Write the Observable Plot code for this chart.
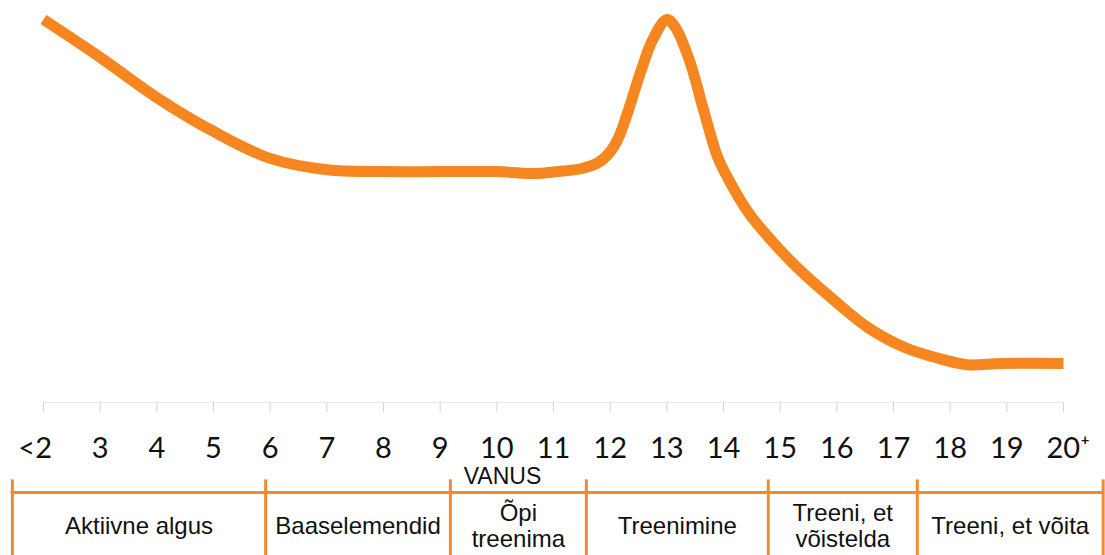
<!DOCTYPE html>
<html>
<head>
<meta charset="utf-8">
<script src="https://cdn.jsdelivr.net/npm/d3@7"></script>
<script src="https://cdn.jsdelivr.net/npm/@observablehq/plot@0.6"></script>
<style>
  html, body { margin: 0; padding: 0; background: #fff; overflow: hidden; }
  #chart svg { display: block; }
</style>
</head>
<body>
<div id="chart"></div>
<script>
// ---- data ----
const ageTicks = [2, 3, 4, 5, 6, 7, 8, 9, 10, 11, 12, 13, 14, 15, 16, 17, 18, 19, 20];
const ageLabels = ["<2", "3", "4", "5", "6", "7", "8", "9", "10", "11", "12", "13", "14", "15", "16", "17", "18", "19", "20⁺"];
const curveAges = [2, 3, 4, 5, 6, 7, 8, 9, 10, 10.7, 11, 11.5, 11.8, 12.0, 12.15, 12.3, 12.55, 12.75, 13, 13.15, 13.4, 13.65, 13.9, 14.1, 14.45, 14.8, 15.3, 15.95, 16.55, 17.2, 17.8, 18.3, 18.9, 20];
const curveLevels = [98.2, 88.5, 78.2, 69.5, 62.6, 59.7, 59.2, 59.2, 59.2, 58.7, 59.1, 60.0, 61.6, 64.3, 68.0, 74.0, 85.3, 93.0, 98.2, 96.2, 87.7, 74.9, 62.8, 56.9, 48.5, 42.3, 34.6, 26.2, 19.2, 14.1, 11.3, 9.7, 10.0, 10.0];
const stageNames = ["Aktiivne algus", "Baaselemendid", "Õpi\ntreenima", "Treenimine", "Treeni, et\nvõistelda", "Treeni, et võita"];
const stageBounds = [1.45, 5.92, 9.18, 11.58, 14.79, 17.42, 20.7];
const axisTitle = "VANUS";

// ---- derived tables ----
const points = curveAges.map((a, i) => ({age: a, level: curveLevels[i]}));
const ticks = ageTicks.map((a, i) => ({age: a, label: ageLabels[i]}));
const stages = stageNames.map((n, i) => ({name: n, start: stageBounds[i], end: stageBounds[i + 1]}));

const ORANGE = "#F6861F";
const BOX = "#F28A30";
const W = 1105;

const main = Plot.plot({
  width: W,
  height: 490,
  marginLeft: 43,
  marginRight: 42,
  marginTop: 12,
  marginBottom: 88,
  x: {domain: [2, 20], axis: null, label: null},
  y: {domain: [0, 100], axis: null, label: null},
  style: {background: "#fff"},
  marks: [
    Plot.ruleY([0], {stroke: "#ececec", strokeWidth: 1}),
    Plot.axisX({ticks: ageTicks, tickSize: 10, tickFormat: () => "", label: null, stroke: "#d4d4d4"}),
    Plot.text(ticks.filter(d => d.age > 2 && d.age < 20), {
      x: "age", text: "label", frameAnchor: "bottom", lineAnchor: "top", dy: 35,
      fontSize: 29, fontFamily: "Lato", fill: "#111"
    }),
    Plot.text(ticks.filter(d => d.age === 2), {
      x: "age", text: "label", frameAnchor: "bottom", lineAnchor: "top", dy: 35,
      textAnchor: "end", dx: 8.5, fontSize: 29, fontFamily: "Lato", fill: "#111"
    }),
    Plot.text(ticks.filter(d => d.age === 20), {
      x: "age", text: "label", frameAnchor: "bottom", lineAnchor: "top", dy: 35,
      textAnchor: "start", dx: -17, fontSize: 29, fontFamily: "Lato", fill: "#111"
    }),
    Plot.text([axisTitle], {
      frameAnchor: "bottom", lineAnchor: "top", dy: 65, dx: -51,
      fontSize: 23, fontFamily: "Liberation Sans", fill: "#111"
    }),
    Plot.line(points, {
      x: "age", y: "level", curve: "catmull-rom",
      stroke: ORANGE, strokeWidth: 11, strokeLinecap: "butt", strokeLinejoin: "round"
    })
  ]
});

const boxes = Plot.plot({
  width: W,
  height: 65,
  marginLeft: 43,
  marginRight: 42,
  marginTop: 2,
  marginBottom: 0,
  x: {domain: [2, 20], axis: null, label: null},
  y: {domain: [0, 1], axis: null, label: null},
  style: {background: "#fff", overflow: "visible"},
  marks: [
    Plot.ruleX(stageBounds, {y1: 0, y2: 1.2, stroke: BOX, strokeWidth: 3}),
    Plot.ruleY([1], {x1: stageBounds[0], x2: stageBounds[stageBounds.length - 1], stroke: BOX, strokeWidth: 3, strokeLinecap: "round"}),
    Plot.text(stages, {
      x: d => (d.start + d.end) / 2, text: "name", frameAnchor: "top", dy: 33,
      lineAnchor: "middle", lineHeight: 1.08,
      fontSize: 24, fontFamily: "Liberation Sans", fill: "#111"
    })
  ]
});

const chart = document.getElementById("chart");
chart.appendChild(main);
chart.appendChild(boxes);
</script>
</body>
</html>
